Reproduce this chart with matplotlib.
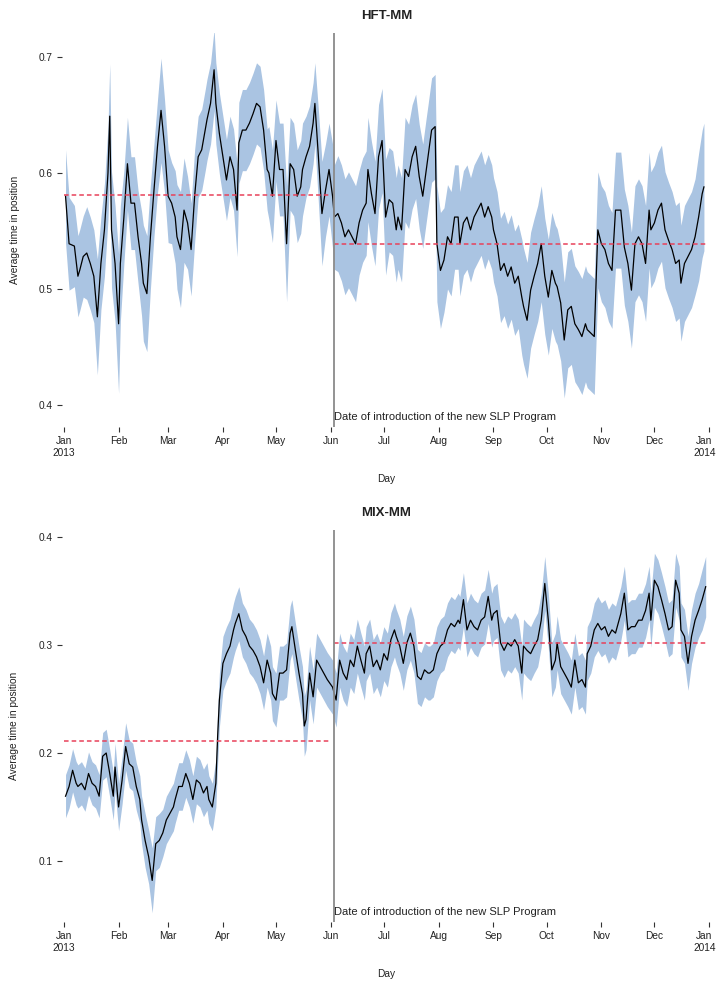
import numpy as np
import matplotlib
matplotlib.use("Agg")
import matplotlib.pyplot as plt
import matplotlib.dates as mdates
import matplotlib.transforms as mtransforms
import datetime as dt

plt.rcParams['font.family'] = ['Liberation Sans', 'DejaVu Sans']

# ---------------- data ----------------
start = dt.date(2013, 1, 1)
intro_date = dt.date(2013, 6, 3)

hft_day = [1,3,6,8,9,11,13,15,17,19, 21,23,25,26,27,29,31,32,34,36,
           38,40,42,44,45,47,49,51,53,55, 57,59,61,63,64,66,68,70,72,74,
           76,78,80,81,83,85,86,88,90,92, 94,96,98,99,101,103,105,107,109,111,
           113,115,116,118,120,122,124,126,128,130, 132,134,135,137,139,141,142,144,146,148,
           150,
           152,153,155,157,159,161,163,165,167,169, 171,172,174,176,178,180,182,184,186,188,
           189,191,193,195,197,199,201,203,205,206, 208,210,211,213,215,217,219,221,223,224,
           226,228,230,232,234,236,238,240,242,243, 245,247,249,251,253,255,257,259,260,262,
           264,266,268,270,272,274,276,278,279,281, 283,285,287,289,291,293,295,296,298,300,
           302,304,306,308,310,312,313,315,317,319, 321,323,325,327,329,331,332,334,336,338,
           340,342,344,346,348,349,351,353,355,357, 359,361,362]
hft_avg = [0.580,0.539,0.537,0.511,0.516,0.528,0.531,0.522,0.511,0.476,
           0.522,0.551,0.600,0.649,0.551,0.522,0.470,0.522,0.562,0.608,
           0.574,0.574,0.545,0.522,0.505,0.496,0.545,0.585,0.623,0.654,
           0.623,0.580,0.574,0.562,0.545,0.534,0.568,0.557,0.534,0.580,
           0.614,0.620,0.637,0.646,0.660,0.689,0.660,0.634,0.614,0.594,
           0.614,0.603,0.568,0.626,0.637,0.637,0.643,0.651,0.660,0.657,
           0.637,0.603,0.600,0.580,0.628,0.603,0.603,0.539,0.608,0.603,
           0.580,0.588,0.603,0.614,0.623,0.643,0.660,0.614,0.565,0.585,
           0.603,
           0.580,0.562,0.565,0.557,0.545,0.551,0.545,0.539,0.557,0.568,
           0.574,0.603,0.582,0.565,0.614,0.628,0.562,0.577,0.574,0.551,
           0.562,0.551,0.603,0.597,0.614,0.623,0.597,0.580,0.603,0.614,
           0.637,0.640,0.539,0.516,0.525,0.545,0.539,0.562,0.562,0.539,
           0.557,0.562,0.551,0.562,0.568,0.574,0.562,0.571,0.562,0.551,
           0.539,0.516,0.522,0.511,0.519,0.505,0.511,0.493,0.485,0.473,
           0.499,0.511,0.522,0.539,0.511,0.493,0.516,0.505,0.502,0.488,
           0.456,0.482,0.485,0.470,0.465,0.459,0.470,0.465,0.462,0.459,
           0.551,0.539,0.534,0.522,0.516,0.568,0.568,0.568,0.536,0.522,
           0.499,0.539,0.545,0.539,0.522,0.568,0.551,0.557,0.568,0.574,
           0.551,0.542,0.534,0.522,0.525,0.505,0.522,0.528,0.534,0.545,
           0.562,0.582,0.588]
hft_hw = [0.040,0.040,0.035,0.035,0.035,0.035,0.040,0.040,0.040,0.050,
          0.040,0.040,0.040,0.045,0.050,0.050,0.060,0.050,0.040,0.040,
          0.040,0.040,0.040,0.045,0.050,0.050,0.045,0.040,0.040,0.045,
          0.040,0.040,0.035,0.040,0.045,0.050,0.045,0.040,0.040,0.040,
          0.035,0.035,0.035,0.035,0.035,0.035,0.035,0.035,0.035,0.035,
          0.035,0.035,0.040,0.035,0.035,0.035,0.035,0.035,0.035,0.035,
          0.035,0.035,0.040,0.040,0.035,0.040,0.040,0.050,0.040,0.040,
          0.040,0.040,0.040,0.035,0.035,0.035,0.035,0.040,0.045,0.040,
          0.040,
          0.045,0.045,0.050,0.050,0.050,0.050,0.050,0.050,0.045,0.045,
          0.045,0.045,0.045,0.045,0.045,0.045,0.050,0.045,0.045,0.045,
          0.045,0.045,0.045,0.045,0.045,0.045,0.045,0.045,0.045,0.045,
          0.045,0.045,0.050,0.050,0.045,0.045,0.045,0.045,0.045,0.045,
          0.045,0.045,0.045,0.045,0.045,0.045,0.045,0.045,0.045,0.045,
          0.045,0.045,0.045,0.045,0.045,0.045,0.045,0.050,0.050,0.050,
          0.050,0.050,0.050,0.050,0.050,0.050,0.050,0.050,0.050,0.050,
          0.050,0.050,0.050,0.050,0.050,0.050,0.050,0.050,0.050,0.050,
          0.050,0.050,0.050,0.050,0.050,0.050,0.050,0.050,0.050,0.050,
          0.050,0.050,0.050,0.050,0.050,0.050,0.050,0.050,0.050,0.050,
          0.050,0.050,0.050,0.050,0.050,0.050,0.050,0.050,0.050,0.050,
          0.055,0.055,0.055]
hft_means = [0.581, 0.539]   # before / after introduction

mix_day = [1,3,5,7,8,10,12,14,16,18, 20,22,24,26,28,29,31,33,35,37,
           39,41,43,44,46,48,50,52,54,56, 58,60,62,63,65,67,69,71,73,75,
           77,79,81,82,84,86,87,88,90,92, 94,96,97,99,101,103,105,107,109,111,
           113,115,117,118,120,122,124,126,128,129, 131,133,135,136,137,139,141,143,145,147,
           149,
           152,154,156,158,160,162,164,166,168,170, 171,173,175,177,179,181,183,185,187,188,
           190,192,194,196,198,200,202,204,206,207, 209,211,213,215,217,219,221,223,224,226,
           228,230,232,234,236,238,240,242,243,245, 247,249,251,253,255,257,259,260,262,264,
           266,268,270,272,274,276,278,279,281,283, 285,287,289,291,293,295,296,298,300,302,
           304,306,308,310,312,313,315,317,319,321, 323,325,327,329,331,332,334,336,338,340,
           342,344,346,348,349,351,353,355,357,359, 361,363]
mix_avg = [0.160,0.169,0.184,0.172,0.169,0.172,0.166,0.181,0.172,0.169,
           0.160,0.197,0.200,0.181,0.160,0.187,0.150,0.175,0.206,0.190,
           0.187,0.169,0.157,0.138,0.119,0.104,0.082,0.116,0.119,0.126,
           0.138,0.144,0.150,0.157,0.169,0.169,0.181,0.172,0.157,0.175,
           0.172,0.163,0.169,0.157,0.150,0.172,0.215,0.249,0.283,0.292,
           0.299,0.314,0.320,0.329,0.314,0.308,0.299,0.295,0.289,0.280,
           0.265,0.286,0.274,0.255,0.249,0.274,0.274,0.277,0.311,0.317,
           0.295,0.274,0.255,0.225,0.231,0.274,0.252,0.286,0.280,0.274,
           0.268,
           0.261,0.249,0.286,0.274,0.268,0.286,0.280,0.299,0.286,0.274,
           0.292,0.299,0.280,0.286,0.277,0.292,0.286,0.305,0.314,0.308,
           0.299,0.283,0.302,0.311,0.299,0.271,0.268,0.277,0.274,0.274,
           0.277,0.292,0.299,0.302,0.314,0.320,0.317,0.323,0.320,0.342,
           0.314,0.323,0.317,0.314,0.323,0.326,0.345,0.323,0.329,0.332,
           0.302,0.295,0.302,0.299,0.305,0.299,0.274,0.299,0.295,0.292,
           0.299,0.305,0.323,0.357,0.323,0.277,0.286,0.302,0.280,0.274,
           0.268,0.261,0.286,0.265,0.268,0.261,0.292,0.299,0.314,0.320,
           0.314,0.317,0.308,0.314,0.311,0.317,0.329,0.348,0.314,0.317,
           0.317,0.323,0.323,0.332,0.348,0.323,0.360,0.354,0.342,0.329,
           0.314,0.317,0.360,0.348,0.314,0.308,0.283,0.308,0.323,0.332,
           0.342,0.354]
mix_hw = [0.020,0.020,0.020,0.020,0.020,0.020,0.020,0.020,0.020,0.020,
          0.020,0.022,0.022,0.022,0.022,0.022,0.022,0.022,0.022,0.022,
          0.022,0.022,0.022,0.022,0.025,0.025,0.030,0.025,0.025,0.022,
          0.022,0.022,0.022,0.022,0.022,0.022,0.022,0.022,0.022,0.022,
          0.022,0.022,0.022,0.022,0.022,0.022,0.025,0.025,0.025,0.025,
          0.025,0.025,0.025,0.025,0.025,0.025,0.025,0.025,0.025,0.025,
          0.025,0.025,0.025,0.025,0.025,0.025,0.025,0.025,0.025,0.025,
          0.025,0.025,0.025,0.028,0.028,0.025,0.025,0.025,0.025,0.025,
          0.025,
          0.025,0.025,0.025,0.025,0.025,0.025,0.025,0.025,0.025,0.025,
          0.025,0.025,0.025,0.025,0.025,0.025,0.025,0.025,0.025,0.025,
          0.025,0.025,0.025,0.025,0.025,0.025,0.025,0.025,0.025,0.025,
          0.025,0.025,0.025,0.025,0.025,0.025,0.025,0.025,0.025,0.025,
          0.025,0.025,0.025,0.025,0.025,0.025,0.025,0.025,0.025,0.025,
          0.025,0.025,0.025,0.025,0.025,0.025,0.025,0.025,0.025,0.025,
          0.025,0.025,0.025,0.025,0.025,0.025,0.025,0.025,0.025,0.025,
          0.025,0.025,0.025,0.025,0.025,0.025,0.025,0.025,0.025,0.025,
          0.025,0.025,0.025,0.025,0.025,0.025,0.025,0.025,0.025,0.025,
          0.025,0.025,0.025,0.025,0.025,0.025,0.025,0.025,0.025,0.025,
          0.025,0.025,0.025,0.025,0.025,0.025,0.025,0.025,0.025,0.025,
          0.028,0.028]
mix_means = [0.211, 0.302]

month_labels = ["Jan\n2013", "Feb", "Mar", "Apr", "May", "Jun", "Jul",
                "Aug", "Sep", "Oct", "Nov", "Dec", "Jan\n2014"]
annotation = "Date of introduction of the new SLP Program"

# ---------------- plotting ----------------
W, H = 717, 981
fig = plt.figure(figsize=(W / 100, H / 100), dpi=100)

ribbon_col = '#aac4e2'
red_col = '#e8415a'
txt_col = '#222222'

month_ticks = [dt.date(2013, m, 1) for m in range(1, 13)] + [dt.date(2014, 1, 1)]
x0 = start - dt.timedelta(days=1.42)
x1 = start + dt.timedelta(days=366.5)


def panel(rect, days, avg, hw, means, ylim, yticks, title):
    ax = fig.add_axes(rect)
    dates = [start + dt.timedelta(days=d) for d in days]
    a = np.array(avg)
    h = np.array(hw)
    ax.fill_between(dates, a - h, a + h, color=ribbon_col, lw=0, zorder=1)
    ax.plot(dates, a, color='black', lw=0.9, zorder=3)
    ax.plot([start, dt.date(2013, 5, 31)], [means[0], means[0]],
            color=red_col, lw=1.1, ls=(0, (3, 2)), zorder=4)
    ax.plot([intro_date, dt.date(2013, 12, 31)], [means[1], means[1]],
            color=red_col, lw=1.1, ls=(0, (3, 2)), zorder=4)
    ax.axvline(intro_date, color='#8a8a8a', lw=1.3, zorder=5)
    trans = mtransforms.blended_transform_factory(ax.transData, ax.transAxes)
    ax.text(intro_date + dt.timedelta(days=0.8), 0.012, annotation,
            transform=trans, fontsize=8, color=txt_col, va='bottom', ha='left')
    ax.set_xlim(x0, x1)
    ax.set_ylim(*ylim)
    ax.set_xticks(month_ticks)
    ax.set_xticklabels(month_labels)
    ax.set_yticks(yticks)
    ax.set_yticklabels([f"{v:.1f}" for v in yticks])
    for s in ax.spines.values():
        s.set_visible(False)
    ax.tick_params(axis='both', length=3.5, width=0.8, color='#333333',
                   labelsize=7.3, labelcolor=txt_col, pad=3)
    # keep the last (Jan 2014) label inside the figure
    last = ax.get_xticklabels()[-1]
    last.set_transform(last.get_transform() +
                       mtransforms.ScaledTranslation(-5 / 100, 0, fig.dpi_scale_trans))
    ax.set_xlabel("Day", fontsize=7.3, color=txt_col, labelpad=12)
    ax.set_ylabel("Average time in position", fontsize=7.3, color=txt_col, labelpad=14)
    ax.set_title(title, fontsize=9.5, fontweight='bold', color=txt_col, pad=10)
    return ax


left = 62 / W
width = (711 - 62) / W
panel([left, 1 - 427 / H, width, (427 - 33) / H], hft_day, hft_avg, hft_hw,
      hft_means, (0.381, 0.7207), [0.4, 0.5, 0.6, 0.7], "HFT-MM")
panel([left, 1 - 922 / H, width, (922 - 530) / H], mix_day, mix_avg, mix_hw,
      mix_means, (0.0435, 0.4065), [0.1, 0.2, 0.3, 0.4], "MIX-MM")

fig.savefig("out.png", dpi=100)
